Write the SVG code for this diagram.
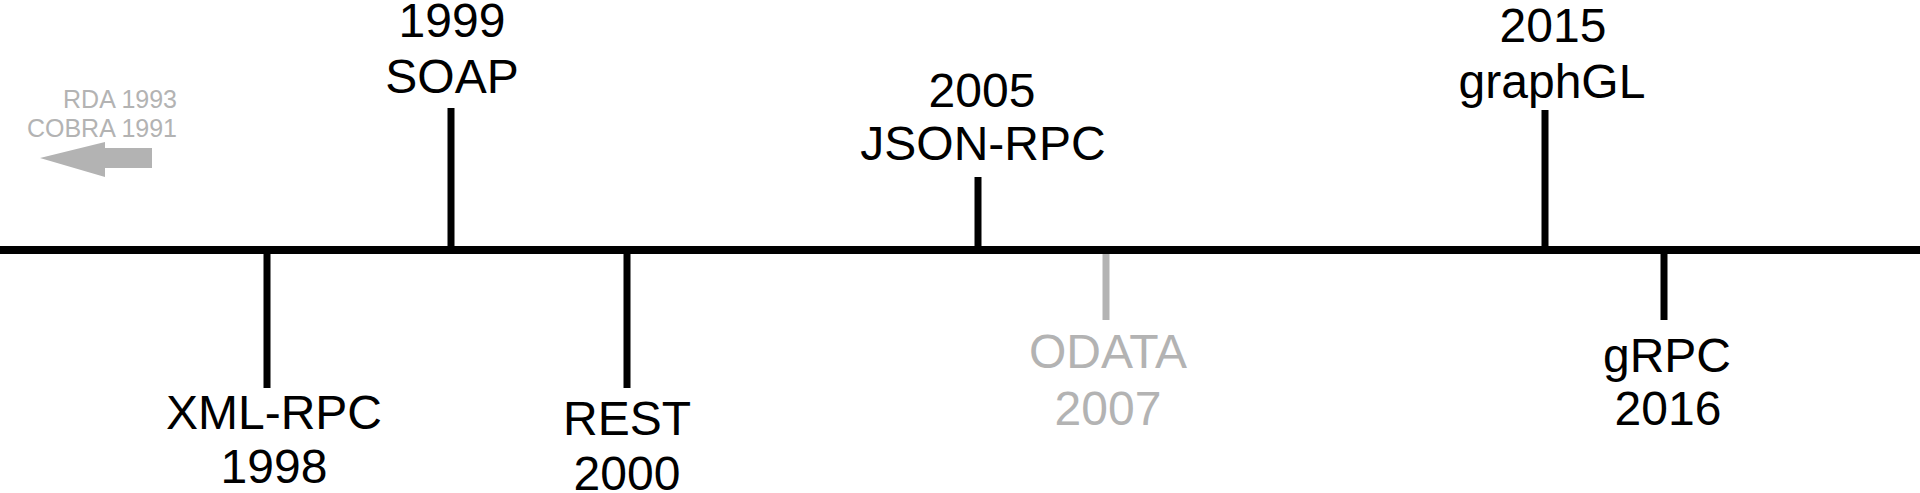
<svg xmlns="http://www.w3.org/2000/svg" width="1920" height="493" viewBox="0 0 1920 493">
<style>
.lbl{font-family:"Liberation Sans",Arial,sans-serif;font-size:48px;fill:#000;text-anchor:middle}
.gray{fill:#b3b3b3}
.small{font-family:"Liberation Sans",Arial,sans-serif;font-size:25px;fill:#b3b3b3;text-anchor:end}
.tick{stroke:#000;stroke-width:7;fill:none}
.gtick{stroke:#b3b3b3;stroke-width:7;fill:none}
</style>
<rect width="1920" height="493" fill="#fff"/>
<g id="connectors">
<line class="gtick" x1="1106" y1="252" x2="1106" y2="320"/>
<line class="tick" x1="267" y1="250" x2="267" y2="388"/>
<line class="tick" x1="451" y1="108" x2="451" y2="250"/>
<line class="tick" x1="627" y1="250" x2="627" y2="388"/>
<line class="tick" x1="978" y1="177" x2="978" y2="250"/>
<line class="tick" x1="1545" y1="110" x2="1545" y2="250"/>
<line class="tick" x1="1664" y1="250" x2="1664" y2="320"/>
<line id="axis" x1="0" y1="250" x2="1920" y2="250" stroke="#000" stroke-width="8"/>
</g>
<g id="older">
<text class="small" x="177" y="108">RDA 1993</text>
<text class="small" x="177" y="137">COBRA 1991</text>
<polygon points="40,158 105,142 105,148 152,148 152,168 105,168 105,177" fill="#b3b3b3"/>
</g>
<g id="xmlrpc"><text class="lbl" x="274" y="429">XML-RPC</text><text class="lbl" x="274" y="483">1998</text></g>
<g id="soap"><text class="lbl" x="452" y="37">1999</text><text class="lbl" x="452" y="93">SOAP</text></g>
<g id="rest"><text class="lbl" x="627" y="435">REST</text><text class="lbl" x="627" y="490">2000</text></g>
<g id="jsonrpc"><text class="lbl" x="982" y="107">2005</text><text class="lbl" x="983" y="160">JSON-RPC</text></g>
<g id="odata"><text class="lbl gray" x="1108" y="368">ODATA</text><text class="lbl gray" x="1108" y="425">2007</text></g>
<g id="graphgl"><text class="lbl" x="1553" y="42">2015</text><text class="lbl" x="1552" y="98">graphGL</text></g>
<g id="grpc"><text class="lbl" x="1667" y="372">gRPC</text><text class="lbl" x="1668" y="425">2016</text></g>
</svg>
